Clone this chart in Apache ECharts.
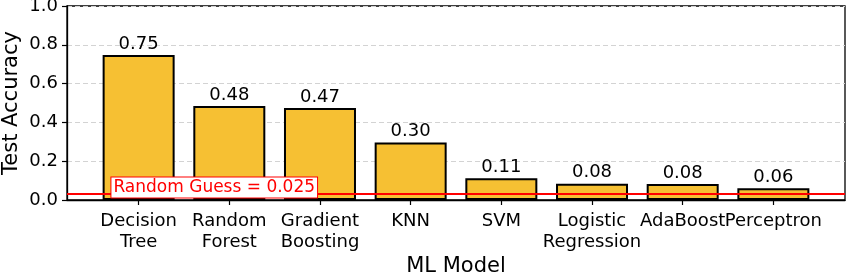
<!DOCTYPE html>
<html>
<head>
<meta charset="utf-8">
<script src="https://cdn.jsdelivr.net/npm/echarts@6/dist/echarts.min.js"></script>
<style>html,body{margin:0;padding:0;background:#fff}#c{width:847px;height:274px}</style>
</head>
<body>
<div id="c"></div>
<script>
const categories = ['Decision\nTree', 'Random\nForest', 'Gradient\nBoosting', 'KNN', 'SVM', 'Logistic\nRegression', 'AdaBoost', 'Perceptron'];
const accuracy = [0.748, 0.484, 0.474, 0.297, 0.112, 0.084, 0.083, 0.060];
const yTicks = [0, 0.2, 0.4, 0.6, 0.8, 1.0];
const randomGuess = 0.025;
const guessLabel = 'Random Guess = 0.025';
const guessLabelPos = [-0.3, 0.0644];

const font = 'DejaVu Sans';
// plot frame: x from 67 to 845; data x-range -0.79 .. 7.79 (matplotlib-like margins)
const frameL = 67, frameR = 845, xMin = -0.79, xMax = 7.79;
const k = (frameR - frameL) / (xMax - xMin);
const bandL = frameL + (-0.5 - xMin) * k;
const bandR = frameL + (7.5 - xMin) * k;

const chart = echarts.init(document.getElementById('c'), null, {renderer: 'canvas'});
chart.setOption({
  animation: false,
  grid: [
    {left: frameL, right: 847 - frameR, top: 6, bottom: 74, outerBoundsMode: 'none', containLabel: false, show: true, borderColor: '#000', borderWidth: 1.3, backgroundColor: 'transparent'},
    {left: bandL, right: 847 - bandR, top: 6, bottom: 74, outerBoundsMode: 'none', containLabel: false}
  ],
  xAxis: [
    {
      gridIndex: 0, type: 'value', min: xMin, max: xMax,
      name: 'ML Model', nameLocation: 'middle', nameGap: 56, nameMoveOverlap: false,
      nameTextStyle: {fontFamily: font, fontSize: 21, color: '#000'},
      axisLine: {show: true, onZero: false, lineStyle: {color: '#000', width: 1.3}},
      axisTick: {show: false}, axisLabel: {show: false}, splitLine: {show: false}
    },
    {
      gridIndex: 1, type: 'category', data: categories, boundaryGap: true,
      axisLine: {show: false},
      axisTick: {show: true, alignWithLabel: true, length: 5, lineStyle: {color: '#000', width: 1.2}},
      axisLabel: {interval: 0, hideOverlap: false, fontFamily: font, fontSize: 18, color: '#000', lineHeight: 21, margin: 11},
      splitLine: {show: false}
    }
  ],
  yAxis: [
    {
      gridIndex: 0, type: 'value', min: yTicks[0], max: yTicks[yTicks.length - 1], interval: 0.2,
      name: 'Test Accuracy', nameLocation: 'middle', nameGap: 45, nameMoveOverlap: false,
      nameTextStyle: {fontFamily: font, fontSize: 21, color: '#000'},
      axisLine: {show: true, onZero: false, lineStyle: {color: '#000', width: 1.3}},
      axisTick: {show: true, length: 5, lineStyle: {color: '#000', width: 1.2}},
      axisLabel: {formatter: v => v.toFixed(1), fontFamily: font, fontSize: 18, color: '#000', margin: 9},
      splitLine: {show: true, lineStyle: {color: '#d3d3d3', width: 1, type: [5, 3]}}
    },
    {
      gridIndex: 1, type: 'value', min: yTicks[0], max: yTicks[yTicks.length - 1], interval: 0.2,
      show: false, splitLine: {show: false}
    }
  ],
  series: [
    {
      type: 'bar', xAxisIndex: 1, yAxisIndex: 1, barWidth: 72, z: 2,
      data: accuracy,
      itemStyle: {color: '#F6C033', borderColor: '#000', borderWidth: 2},
      label: {show: true, position: 'top', distance: 2, formatter: p => p.value.toFixed(2), fontFamily: font, fontSize: 18, color: '#000'}
    },
    {
      type: 'line', xAxisIndex: 0, yAxisIndex: 0, data: [], z: 3,
      markLine: {silent: true, symbol: 'none', label: {show: false},
        lineStyle: {color: '#ff0000', width: 2, type: 'solid'},
        data: [{yAxis: randomGuess}]}
    },
    {
      type: 'scatter', xAxisIndex: 0, yAxisIndex: 0, data: [], z: 4,
      markPoint: {silent: true, symbol: 'circle', symbolSize: 0,
        label: {show: true, position: 'right', distance: 0, formatter: guessLabel, fontFamily: font, fontSize: 17, color: '#ff0000',
          backgroundColor: '#fff', borderColor: '#ff0000', borderWidth: 1, padding: [2, 2, 1, 2]},
        data: [{coord: guessLabelPos}]}
    }
  ]
});
</script>
</body>
</html>
